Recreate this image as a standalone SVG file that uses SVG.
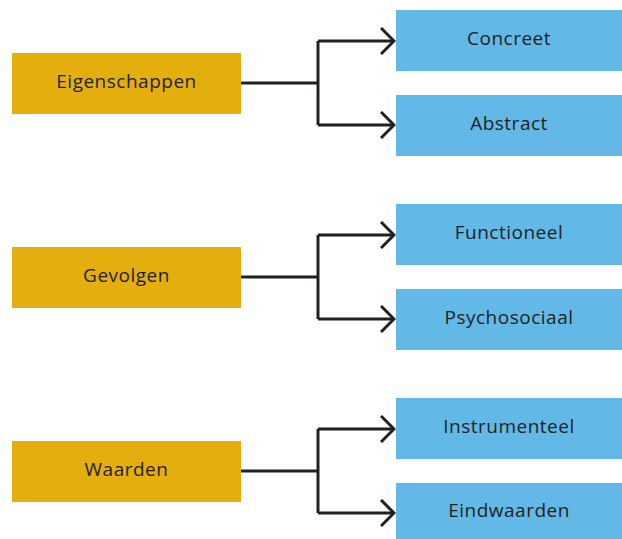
<svg xmlns="http://www.w3.org/2000/svg" width="622" height="539" viewBox="0 0 622 539">
  <style>
    .src { fill: #e5ae0f; }
    .dst { fill: #62b9e8; }
    .lbl { font-family: "Open Sans", "Noto Sans", sans-serif; font-size: 19px; letter-spacing: 0.5px; fill: #231f20; text-anchor: middle; dominant-baseline: central; }
    .wire { fill: none; stroke: #231f20; stroke-width: 3; }
  </style>
  <defs>
    <marker id="chev" markerUnits="userSpaceOnUse" viewBox="0 0 16 28" refX="14" refY="14" markerWidth="16" markerHeight="28" orient="auto">
      <polyline points="1,1 14,14 1,27" fill="none" stroke="#231f20" stroke-width="3"/>
    </marker>
  </defs>

  <!-- connectors -->
  <g id="connectors" class="wire">
    <path d="M241 83 H318"/>
    <path d="M318 41 V125" />
    <path d="M318 41 H394" marker-end="url(#chev)"/>
    <path d="M318 125 H394" marker-end="url(#chev)"/>

    <path d="M241 277 H318"/>
    <path d="M318 235 V319" />
    <path d="M318 235 H394" marker-end="url(#chev)"/>
    <path d="M318 319 H394" marker-end="url(#chev)"/>

    <path d="M241 471 H318"/>
    <path d="M318 429 V513" />
    <path d="M318 429 H394" marker-end="url(#chev)"/>
    <path d="M318 513 H394" marker-end="url(#chev)"/>
  </g>

  <!-- source nodes -->
  <g id="eigenschappen">
    <rect class="src" x="12" y="53" width="229" height="61"/>
    <text class="lbl" x="126.5" y="80.5">Eigenschappen</text>
  </g>
  <g id="gevolgen">
    <rect class="src" x="12" y="247" width="229" height="61"/>
    <text class="lbl" x="126.5" y="274.5">Gevolgen</text>
  </g>
  <g id="waarden">
    <rect class="src" x="12" y="441" width="229" height="61"/>
    <text class="lbl" x="126.5" y="468.5">Waarden</text>
  </g>

  <!-- target nodes -->
  <g id="concreet">
    <rect class="dst" x="396" y="10" width="226" height="61"/>
    <text class="lbl" x="509" y="37.5">Concreet</text>
  </g>
  <g id="abstract">
    <rect class="dst" x="396" y="95" width="226" height="61"/>
    <text class="lbl" x="509" y="122.5">Abstract</text>
  </g>
  <g id="functioneel">
    <rect class="dst" x="396" y="204" width="226" height="61"/>
    <text class="lbl" x="509" y="231.5">Functioneel</text>
  </g>
  <g id="psychosociaal">
    <rect class="dst" x="396" y="289" width="226" height="61"/>
    <text class="lbl" x="509" y="316.5">Psychosociaal</text>
  </g>
  <g id="instrumenteel">
    <rect class="dst" x="396" y="398" width="226" height="61"/>
    <text class="lbl" x="509" y="425.5">Instrumenteel</text>
  </g>
  <g id="eindwaarden">
    <rect class="dst" x="396" y="483" width="226" height="61"/>
    <text class="lbl" x="509" y="509.5">Eindwaarden</text>
  </g>
</svg>
